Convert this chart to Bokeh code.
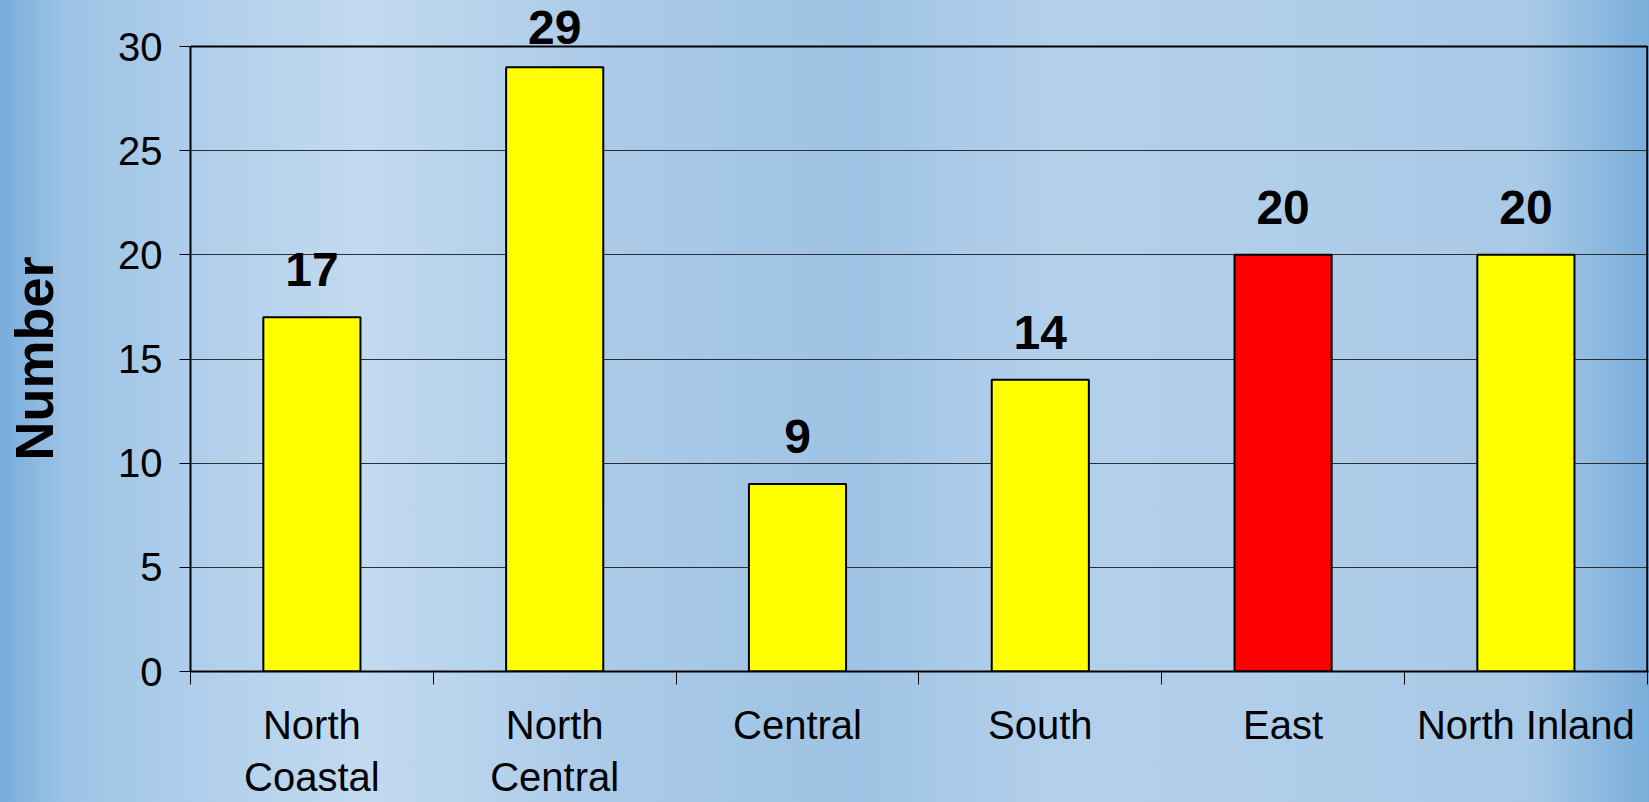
from bokeh.plotting import figure
from bokeh.models import ColumnDataSource, FixedTicker, LabelSet, Range1d
from bokeh.core.properties import value
from bokeh.embed import file_html
from bokeh.resources import INLINE

regions = ["North\nCoastal", "North\nCentral", "Central", "South", "East", "North Inland"]
counts = [17, 29, 9, 14, 20, 20]
bar_colors = ["#FFFF00", "#FFFF00", "#FFFF00", "#FFFF00", "#FF0000", "#FFFF00"]
y_ticks = [0, 5, 10, 15, 20, 25, 30]
y_max = 30

n = len(regions)
centers = [i + 0.5 for i in range(n)]
bounds = list(range(n + 1))

# value labels float ~31px above bars, but are pushed down to stay inside the chart
px_per_unit = 20.8
label_offsets = [min(31, (y_max - c) * px_per_unit + 3) for c in counts]

src = ColumnDataSource(dict(x=centers, top=counts, color=bar_colors,
                            label=[str(c) for c in counts], offset=label_offsets))

# the canvas is pinned to the window's top-left corner and covers 1649x802
p = figure(width=1649, height=802,
           x_range=Range1d(0, n + 0.005), y_range=Range1d(0, y_max + 2.21),
           output_backend="svg", toolbar_location=None,
           min_border_left=190, min_border_right=1, min_border_top=0,
           min_border_bottom=130)

p.styles = {"background": "linear-gradient(90deg, #78acdb 0%, #9ec3e6 4%, #b4d1ec 14%, "
                          "#c2daf0 22%, #a9c9e7 38%, #9fc3e4 52%, #b3d0eb 64%, "
                          "#aecde9 80%, #a7c8e6 93%, #7aaedb 100%)",
            "position": "absolute", "top": "0px", "left": "0px"}
p.background_fill_color = None
p.border_fill_color = None
p.outline_line_color = None

# grid
p.xgrid.visible = False
p.ygrid.ticker = FixedTicker(ticks=y_ticks)
p.ygrid.grid_line_color = "#2a2f36"
p.ygrid.grid_line_width = 1

# plot-area border (top and right)
p.segment(x0=[0, n], y0=[y_max, 0], x1=[n, n], y1=[y_max, y_max],
          line_color="black", line_width=2)

p.vbar(x="x", top="top", width=0.4, bottom=0, source=src,
       fill_color="color", line_color="black", line_width=2)

labels = LabelSet(x="x", y="top", text="label", source=src,
                  text_align="center", text_baseline="alphabetic", y_offset="offset",
                  text_font=value("Liberation Sans"), text_font_style="bold",
                  text_font_size="48px", text_color="black")
p.add_layout(labels)

# y axis
p.yaxis.ticker = FixedTicker(ticks=y_ticks)
p.yaxis.bounds = (0, y_max)
p.yaxis.axis_line_color = "black"
p.yaxis.axis_line_width = 2
p.yaxis.major_tick_in = 0
p.yaxis.major_tick_out = 11
p.yaxis.major_tick_line_color = "black"
p.yaxis.minor_tick_line_color = None
p.yaxis.major_label_text_font = "Liberation Sans"
p.yaxis.major_label_text_font_size = "40px"
p.yaxis.major_label_text_color = "black"
p.yaxis.major_label_standoff = 17
# trailing no-break spaces nudge the centred title down to the middle of the 0-30 span
p.yaxis.axis_label = "Number\u00a0\u00a0\u00a0"
p.yaxis.axis_label_text_font = "Liberation Sans"
p.yaxis.axis_label_text_font_style = "bold"
p.yaxis.axis_label_text_font_size = "54px"
p.yaxis.axis_label_text_color = "black"
p.yaxis.axis_label_standoff = 51

# x axis: labels at centers, tick marks at category boundaries
p.xaxis.ticker = FixedTicker(ticks=centers, minor_ticks=bounds)
p.xaxis.major_label_overrides = {c: r for c, r in zip(centers, regions)}
p.xaxis.axis_line_color = "black"
p.xaxis.axis_line_width = 2
p.xaxis.major_tick_line_color = None
p.xaxis.major_tick_in = 0
p.xaxis.major_tick_out = 0
p.xaxis.minor_tick_line_color = "black"
p.xaxis.minor_tick_in = 0
p.xaxis.minor_tick_out = 13
p.xaxis.major_label_text_font = "Liberation Sans"
p.xaxis.major_label_text_font_size = "40px"
p.xaxis.major_label_text_color = "black"
p.xaxis.major_label_standoff = 18

open("out.html", "w").write(file_html(p, INLINE))
